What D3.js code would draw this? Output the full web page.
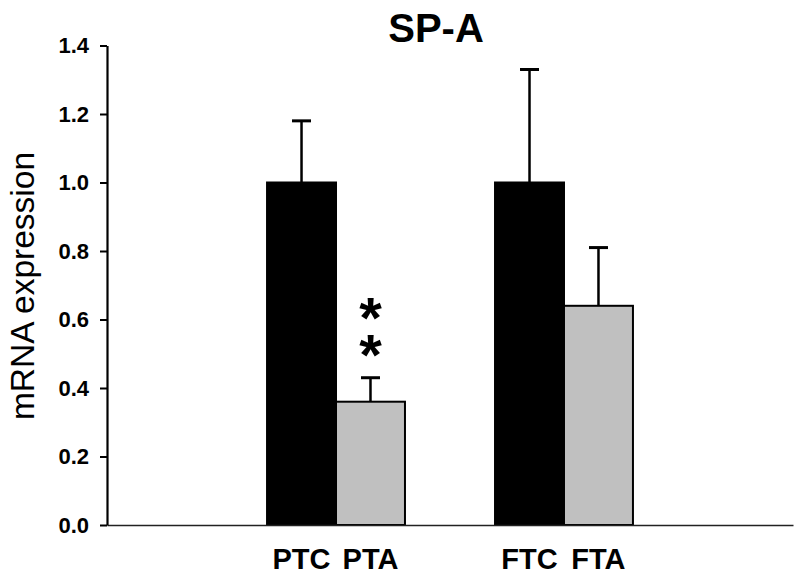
<!DOCTYPE html>
<html>
<head>
<meta charset="utf-8">
<script src="https://cdn.jsdelivr.net/npm/d3@7"></script>
<style>
  html, body { margin: 0; padding: 0; background: #fff; }
  svg { display: block; font-family: "Liberation Sans", Arial, sans-serif; }
</style>
</head>
<body>
<div id="chart"></div>
<script>
// SP-A mRNA expression, control vs treated, two groups
const groups = ["P", "F"];
const conditions = ["control", "treated"];
const categories = ["PTC", "PTA", "FTC", "FTA"];
const categoryGroup = ["P", "P", "F", "F"];
const categoryCondition = ["control", "treated", "control", "treated"];
const means = [1.0, 0.36, 1.0, 0.64];
const sem = [0.18, 0.07, 0.33, 0.17];
const significance = ["", "**", "", ""];
const yTicks = [0, 0.2, 0.4, 0.6, 0.8, 1.0, 1.2, 1.4];

const COND_COLOR = d3.scaleOrdinal().domain(conditions).range(["#000000", "#c0c0c0"]);

const w = 800, h = 578;
const margin = { top: 45.5, right: 7, bottom: 53, left: 107 };

const svg = d3.select("#chart").append("svg")
  .attr("width", w)
  .attr("height", h);

const x0 = d3.scaleBand()
  .domain(groups)
  .range([margin.left, w - margin.right])
  .paddingInner(0.395)
  .paddingOuter(0.702);
const x1 = d3.scaleBand()
  .domain(conditions)
  .range([0, x0.bandwidth()]);
const y = d3.scaleLinear()
  .domain([0, 1.4])
  .range([h - margin.bottom, margin.top]);

const rows = categories.map((c, i) => ({
  name: c,
  group: categoryGroup[i],
  cond: categoryCondition[i],
  mean: means[i],
  err: sem[i],
  sig: significance[i],
}));
const xPos = (d) => x0(d.group) + x1(d.cond);

// bars
svg.append("g")
  .selectAll("rect")
  .data(rows)
  .join("rect")
  .attr("x", (d) => xPos(d))
  .attr("y", (d) => y(d.mean))
  .attr("width", x1.bandwidth())
  .attr("height", (d) => y(0) - y(d.mean))
  .attr("fill", (d) => COND_COLOR(d.cond))
  .attr("stroke", "#000")
  .attr("stroke-width", 2);

// error bars (upper only)
const eb = svg.append("g").attr("stroke", "#000");
eb.selectAll("line.stem")
  .data(rows)
  .join("line")
  .attr("class", "stem")
  .attr("x1", (d) => xPos(d) + x1.bandwidth() / 2)
  .attr("x2", (d) => xPos(d) + x1.bandwidth() / 2)
  .attr("y1", (d) => y(d.mean))
  .attr("y2", (d) => y(d.mean + d.err))
  .attr("stroke-width", 2.5);
eb.selectAll("line.cap")
  .data(rows)
  .join("line")
  .attr("class", "cap")
  .attr("x1", (d) => xPos(d) + x1.bandwidth() / 2 - 9.5)
  .attr("x2", (d) => xPos(d) + x1.bandwidth() / 2 + 9.5)
  .attr("y1", (d) => y(d.mean + d.err))
  .attr("y2", (d) => y(d.mean + d.err))
  .attr("stroke-width", 3);

// significance stars, stacked vertically as a single text
svg.append("g")
  .selectAll("text")
  .data(rows.filter((d) => d.sig))
  .join("text")
  .attr("x", (d) => xPos(d) + x1.bandwidth() / 2)
  .attr("y", (d) => y(d.mean + d.err) - 93)
  .style("writing-mode", "vertical-rl")
  .style("text-orientation", "upright")
  .style("letter-spacing", "-28px")
  .style("font-size", "58px")
  .style("font-weight", "bold")
  .attr("fill", "#000")
  .text((d) => d.sig);

// x axis line
const xAxis = svg.append("g")
  .attr("transform", `translate(0,${y(0)})`)
  .call(d3.axisBottom(x0).tickSize(0).tickSizeOuter(0).tickFormat(""));
xAxis.select(".domain").attr("stroke", "#222").attr("stroke-width", 1.5);

// category labels
svg.append("g")
  .selectAll("text")
  .data(rows)
  .join("text")
  .attr("x", (d) => xPos(d) + x1.bandwidth() / 2)
  .attr("y", 569)
  .attr("text-anchor", "middle")
  .style("font-size", "29px")
  .style("font-weight", "bold")
  .text((d) => d.name);

// y axis
const yAxis = svg.append("g")
  .attr("transform", `translate(${margin.left},0)`)
  .call(d3.axisLeft(y).tickValues(yTicks).tickFormat(d3.format(".1f"))
    .tickSize(7).tickSizeOuter(0).tickPadding(11));
yAxis.select(".domain").attr("stroke", "#000").attr("stroke-width", 2.2);
yAxis.selectAll(".tick line").attr("stroke", "#000").attr("stroke-width", 2);
yAxis.selectAll(".tick text")
  .attr("fill", "#000")
  .style("font-size", "22px")
  .style("font-weight", "bold")
  .style("font-family", "'Liberation Sans', Arial, sans-serif");

svg.append("text")
  .attr("transform", "rotate(-90)")
  .attr("x", -286)
  .attr("y", 34)
  .attr("text-anchor", "middle")
  .style("font-size", "33.5px")
  .text("mRNA expression");

// title
svg.append("text")
  .attr("x", 436)
  .attr("y", 42)
  .attr("text-anchor", "middle")
  .style("font-size", "40px")
  .style("font-weight", "bold")
  .text("SP-A");
</script>
</body>
</html>
